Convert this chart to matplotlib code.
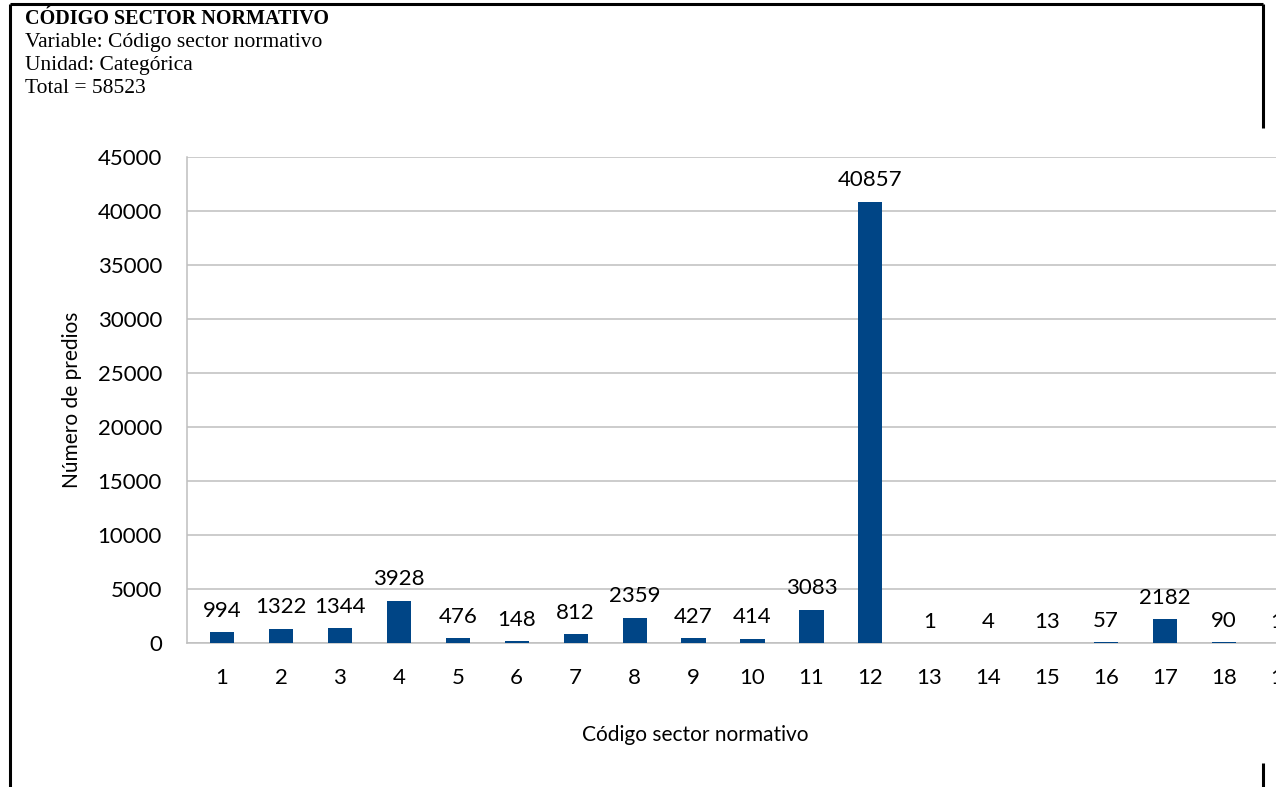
import matplotlib
matplotlib.use("Agg")
import matplotlib.pyplot as plt
from matplotlib.lines import Line2D

# Data
categories = ["1", "2", "3", "4", "5", "6", "7", "8", "9", "10",
              "11", "12", "13", "14", "15", "16", "17", "18", "19"]
counts = [994, 1322, 1344, 3928, 476, 148, 812, 2359, 427, 414,
          3083, 40857, 1, 4, 13, 57, 2182, 90, 12]
y_ticks = [0, 5000, 10000, 15000, 20000, 25000, 30000, 35000, 40000, 45000]

header_title = "CÓDIGO SECTOR NORMATIVO"
header_lines = ["Variable: Código sector normativo",
                "Unidad: Categórica",
                "Total = 58523"]
x_title = "Código sector normativo"
y_title = "Número de predios"

W, H = 1276, 787
fig = plt.figure(figsize=(W / 100, H / 100), dpi=100)
fig.patch.set_facecolor("white")

def fx(px):
    return px / W

def fy(py):
    return 1 - py / H

# Page frame around the sheet
frame_kw = dict(color="black", lw=2.2, solid_capstyle="butt", transform=fig.transFigure)
fig.add_artist(Line2D([fx(10), fx(10)], [fy(4), fy(787)], **frame_kw))
fig.add_artist(Line2D([fx(10), fx(1263)], [fy(4), fy(4)], **frame_kw))
fig.add_artist(Line2D([fx(1263), fx(1263)], [fy(4), fy(128)], **frame_kw))
fig.add_artist(Line2D([fx(1263), fx(1263)], [fy(763), fy(787)], **frame_kw))

# Header block
serif = ["Liberation Serif", "DejaVu Serif"]
fig.text(fx(25), fy(24), header_title, fontsize=14.5, fontweight="bold",
         family=serif, va="baseline", ha="left")
for i, line in enumerate(header_lines):
    fig.text(fx(25), fy(47 + i * 23), line, fontsize=15.5,
             family=serif, va="baseline", ha="left")

# Chart
sans = ["Lato", "DejaVu Sans"]
ax_left, ax_right = 187, 1318
ax_top, ax_bottom = 157, 643
ax = fig.add_axes([fx(ax_left), fy(ax_bottom), (ax_right - ax_left) / W,
                   (ax_bottom - ax_top) / H])
ax.set_facecolor("white")

x = list(range(1, len(categories) + 1))
bar_color = "#004586"
ax.bar(x, counts, width=0.41, color=bar_color, zorder=3)

ax.set_xlim(0.406, len(categories) + 0.594)
ax.set_ylim(0, 45000)
ax.set_yticks(y_ticks)
ax.set_yticklabels([str(v) for v in y_ticks], family=sans, fontsize=16)
ax.set_xticks(x)
ax.set_xticklabels(categories, family=sans, fontsize=16)
ax.tick_params(axis="both", length=0)
ax.tick_params(axis="y", pad=18)
ax.tick_params(axis="x", pad=18)

ax.grid(axis="y", color="#BFBFBF", lw=1.1, zorder=0)
for side in ["top", "right"]:
    ax.spines[side].set_visible(False)
for side in ["left", "bottom"]:
    ax.spines[side].set_color("#BFBFBF")
    ax.spines[side].set_linewidth(1.1)

for xi, v in zip(x, counts):
    ax.annotate(str(v), (xi, v), xytext=(0, 11), textcoords="offset points",
                ha="center", va="baseline", family=sans, fontsize=16,
                annotation_clip=False)

fig.text(fx(72), fy(400), y_title, rotation=90, ha="center", va="center",
         family=sans, fontsize=15)
fig.text(fx(695), fy(735), x_title, ha="center", va="center",
         family=sans, fontsize=15)

fig.savefig("out.png", dpi=100, facecolor="white")
